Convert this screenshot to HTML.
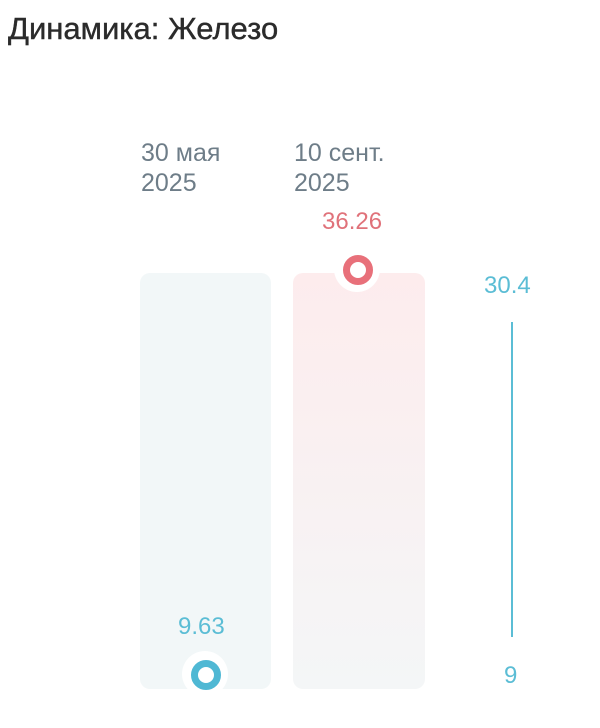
<!DOCTYPE html>
<html><head><meta charset="utf-8"><style>
body{margin:0;width:600px;height:728px;background:#fff;position:relative;font-family:"Liberation Sans","DejaVu Sans",sans-serif;overflow:hidden}
.t{position:absolute;white-space:nowrap}
</style></head><body>
<div class="t" style="left:8px;top:11px;font-size:31px;color:#2b2b2b;-webkit-text-stroke:0.4px #2b2b2b">Динамика: Железо</div>
<div class="t" style="left:141px;top:138px;font-size:25px;line-height:30px;color:#6e7d88">30 мая<br>2025</div>
<div class="t" style="left:294px;top:138px;font-size:25px;line-height:30px;color:#6e7d88">10 сент.<br>2025</div>
<div style="position:absolute;left:140px;top:273px;width:131px;height:416px;border-radius:10px;background:#f2f7f8"></div>
<div style="position:absolute;left:293px;top:273px;width:132px;height:416px;border-radius:10px;background:linear-gradient(#fdeced,#f4f6f7)"></div>
<div class="t" style="left:322px;top:208px;font-size:24px;color:#e0727a">36.26</div>
<div style="position:absolute;left:334px;top:246px;width:46px;height:46px;border-radius:50%;background:#fff"></div>
<div style="position:absolute;left:343px;top:255px;width:16px;height:16px;border-radius:50%;border:7.5px solid #e8707a;background:#fff"></div>
<div class="t" style="left:178px;top:613px;font-size:24px;color:#5bbdd5">9.63</div>
<div style="position:absolute;left:182px;top:651px;width:46px;height:46px;border-radius:50%;background:#fff"></div>
<div style="position:absolute;left:191px;top:660px;width:16px;height:16px;border-radius:50%;border:7.5px solid #4fb8d4;background:#fff"></div>
<div class="t" style="left:484px;top:272px;font-size:24px;color:#5bbdd5">30.4</div>
<div style="position:absolute;left:511px;top:322px;width:2px;height:315px;background:#5bbdd5"></div>
<div class="t" style="left:504px;top:662px;font-size:24px;color:#5bbdd5">9</div>
</body></html>
